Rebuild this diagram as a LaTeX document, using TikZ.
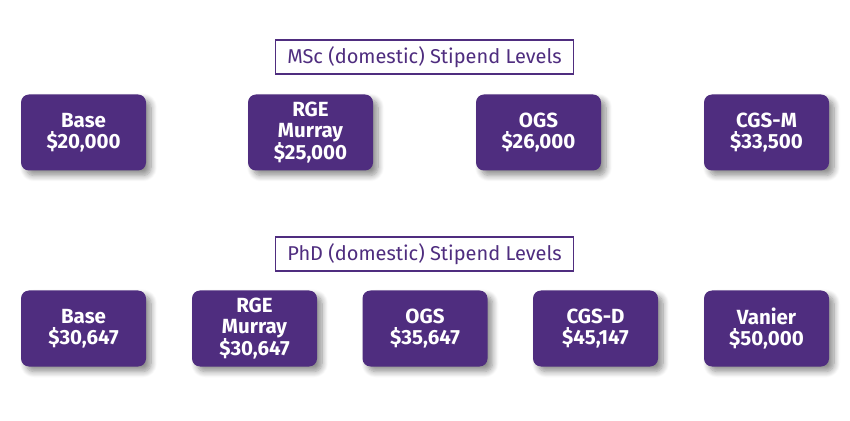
\documentclass[tikz,border=0pt]{standalone}
\usepackage{fontspec}
\setmainfont{Fira Sans}
\usetikzlibrary{shadows.blur}
\definecolor{westpurple}{HTML}{4F2D7F}
\tikzset{
  stipend/.style={fill=westpurple, draw=none, rounded corners=8pt, minimum width=125pt, minimum height=76pt, inner sep=0pt,
    align=center, text=white, font=\fontsize{20.5}{21}\selectfont\bfseries,
    blur shadow={shadow xshift=5pt, shadow yshift=-5pt, shadow blur radius=6pt, shadow blur steps=8, shadow opacity=45}},
  heading/.style={draw=westpurple, line width=1.3pt, fill=white, text=westpurple, minimum width=298pt, minimum height=34pt, inner sep=0pt,
    font=\fontsize{20}{22}\selectfont}
}
\begin{document}
\begin{tikzpicture}[x=1pt,y=1pt]
\useasboundingbox (0,0) rectangle (850,420);
% MSc
\node[heading] (msct) at (424.5,363) {MSc (domestic) Stipend Levels};
\node[stipend] (m1) at (83.5,287.5) {Base\\\$20,000};
\node[stipend] (m2) at (310.5,287.5) {RGE\\Murray\\\$25,000};
\node[stipend] (m3) at (538.5,287.5) {OGS\\\$26,000};
\node[stipend] (m4) at (766.5,287.5) {CGS-M\\\$33,500};
% PhD
\node[heading] (phdt) at (424.5,166) {PhD (domestic) Stipend Levels};
\node[stipend] (p1) at (83.5,91.5) {Base\\\$30,647};
\node[stipend] (p2) at (254.5,91.5) {RGE\\Murray\\\$30,647};
\node[stipend] (p3) at (425,91.5) {OGS\\\$35,647};
\node[stipend] (p4) at (595.5,91.5) {CGS-D\\\$45,147};
\node[stipend] (p5) at (766.5,91.5) {Vanier\\\$50,000};
\end{tikzpicture}
\end{document}
